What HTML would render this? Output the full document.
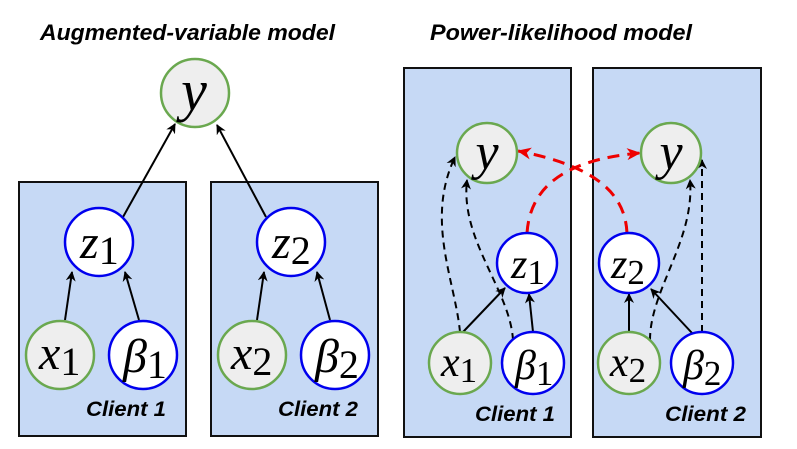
<!DOCTYPE html>
<html><head><style>body{margin:0;background:#fff}svg{display:block}</style></head><body>
<svg width="797" height="449" viewBox="0 0 797 449" xmlns="http://www.w3.org/2000/svg">
<defs>
<marker id="a" markerWidth="10" markerHeight="10" refX="9" refY="5" orient="auto" markerUnits="userSpaceOnUse"><path d="M0,0 L10,5 L0,10 L3,5 z" fill="#000"/></marker>
<marker id="r" markerWidth="14" markerHeight="12" refX="13" refY="6" orient="auto" markerUnits="userSpaceOnUse"><path d="M0,0 L14,6 L0,12 L4,6 z" fill="#e00"/></marker>
</defs>
<g font-family="Liberation Sans, sans-serif" font-weight="bold" font-style="italic" font-size="22">
<text x="40" y="40" textLength="295" lengthAdjust="spacingAndGlyphs">Augmented-variable model</text>
<text x="430" y="40" textLength="262" lengthAdjust="spacingAndGlyphs">Power-likelihood model</text>
</g>
<g fill="#c6d9f5" stroke="#111" stroke-width="2">
<rect x="19" y="182" width="167" height="254"/>
<rect x="211" y="182" width="167" height="254"/>
<rect x="404" y="68" width="167" height="369"/>
<rect x="593" y="68" width="168" height="369"/>
</g>
<g stroke="#000" stroke-width="2" fill="none" marker-end="url(#a)">
<line x1="123" y1="217" x2="175" y2="124"/>
<line x1="266" y1="217" x2="217" y2="125"/>
<line x1="65" y1="320" x2="72" y2="272"/>
<line x1="139" y1="320" x2="125" y2="272"/>
<line x1="257" y1="320" x2="264" y2="272"/>
<line x1="330" y1="320" x2="317" y2="272"/>
<line x1="463" y1="332" x2="505" y2="288"/>
<line x1="533" y1="332" x2="529" y2="294"/>
<line x1="629" y1="332" x2="629" y2="294"/>
<line x1="692" y1="333" x2="651" y2="289"/>
</g>
<g stroke="#000" stroke-width="2" fill="none" stroke-dasharray="7,5" marker-end="url(#a)">
<path d="M460,332 C455,280 425,220 455,157"/>
<path d="M513,340 C510,290 460,240 467,180"/>
<path d="M650,340 C650,290 695,240 690,180"/>
<path d="M702,332 L702,160"/>
</g>
<g stroke="#e00" stroke-width="3" fill="none" stroke-dasharray="12,8" marker-end="url(#r)">
<path d="M527,233 C530,190 560,160 640,153"/>
<path d="M627,233 C625,190 590,165 518,151"/>
</g>
<g stroke-width="2.5">
<circle cx="195" cy="93" r="34" fill="#eee" stroke="#6aa84f"/>
<circle cx="99" cy="242" r="34" fill="#fff" stroke="#00e"/>
<circle cx="291" cy="242" r="34" fill="#fff" stroke="#00e"/>
<circle cx="60" cy="355" r="34" fill="#eee" stroke="#6aa84f"/>
<circle cx="143" cy="355" r="34" fill="#fff" stroke="#00e"/>
<circle cx="252" cy="355" r="34" fill="#eee" stroke="#6aa84f"/>
<circle cx="335" cy="355" r="34" fill="#fff" stroke="#00e"/>
<circle cx="487" cy="153" r="30" fill="#eee" stroke="#6aa84f"/>
<circle cx="671" cy="153" r="30" fill="#eee" stroke="#6aa84f"/>
<circle cx="527" cy="263" r="30" fill="#fff" stroke="#00e"/>
<circle cx="629" cy="263" r="30" fill="#fff" stroke="#00e"/>
<circle cx="460" cy="363" r="31" fill="#eee" stroke="#6aa84f"/>
<circle cx="533" cy="363" r="31" fill="#fff" stroke="#00e"/>
<circle cx="629" cy="363" r="31" fill="#eee" stroke="#6aa84f"/>
<circle cx="702" cy="363" r="31" fill="#fff" stroke="#00e"/>
</g>
<g font-family="Liberation Serif, serif" font-style="italic" fill="#000" text-anchor="middle">
<text x="194" y="110" font-size="58">y</text>
<text x="487" y="169" font-size="52">y</text>
<text x="671" y="169" font-size="52">y</text>
</g>
<g font-family="Liberation Serif, serif" fill="#000" font-size="48">
<text x="80" y="258"><tspan font-style="italic">z</tspan><tspan font-size="40" dy="6">1</tspan></text>
<text x="272" y="258"><tspan font-style="italic">z</tspan><tspan font-size="40" dy="6">2</tspan></text>
<text x="39" y="369"><tspan font-style="italic">x</tspan><tspan font-size="40" dy="6">1</tspan></text>
<text x="123" y="372"><tspan font-style="italic">β</tspan><tspan font-size="40" dy="6">1</tspan></text>
<text x="231" y="369"><tspan font-style="italic">x</tspan><tspan font-size="40" dy="6">2</tspan></text>
<text x="315" y="372"><tspan font-style="italic">β</tspan><tspan font-size="40" dy="6">2</tspan></text>
</g>
<g font-family="Liberation Serif, serif" fill="#000" font-size="42">
<text x="511" y="278"><tspan font-style="italic">z</tspan><tspan font-size="35" dy="6">1</tspan></text>
<text x="611" y="278"><tspan font-style="italic">z</tspan><tspan font-size="35" dy="6">2</tspan></text>
<text x="441" y="376"><tspan font-style="italic">x</tspan><tspan font-size="35" dy="6">1</tspan></text>
<text x="515" y="379"><tspan font-style="italic">β</tspan><tspan font-size="35" dy="6">1</tspan></text>
<text x="610" y="376"><tspan font-style="italic">x</tspan><tspan font-size="35" dy="6">2</tspan></text>
<text x="683" y="379"><tspan font-style="italic">β</tspan><tspan font-size="35" dy="6">2</tspan></text>
</g>
<g font-family="Liberation Sans, sans-serif" font-weight="bold" font-style="italic" font-size="21">
<text x="86" y="416" textLength="80" lengthAdjust="spacingAndGlyphs">Client 1</text>
<text x="278" y="416" textLength="80" lengthAdjust="spacingAndGlyphs">Client 2</text>
<text x="475" y="421" textLength="80" lengthAdjust="spacingAndGlyphs">Client 1</text>
<text x="665" y="421" textLength="81" lengthAdjust="spacingAndGlyphs">Client 2</text>
</g>
</svg>
</body></html>
